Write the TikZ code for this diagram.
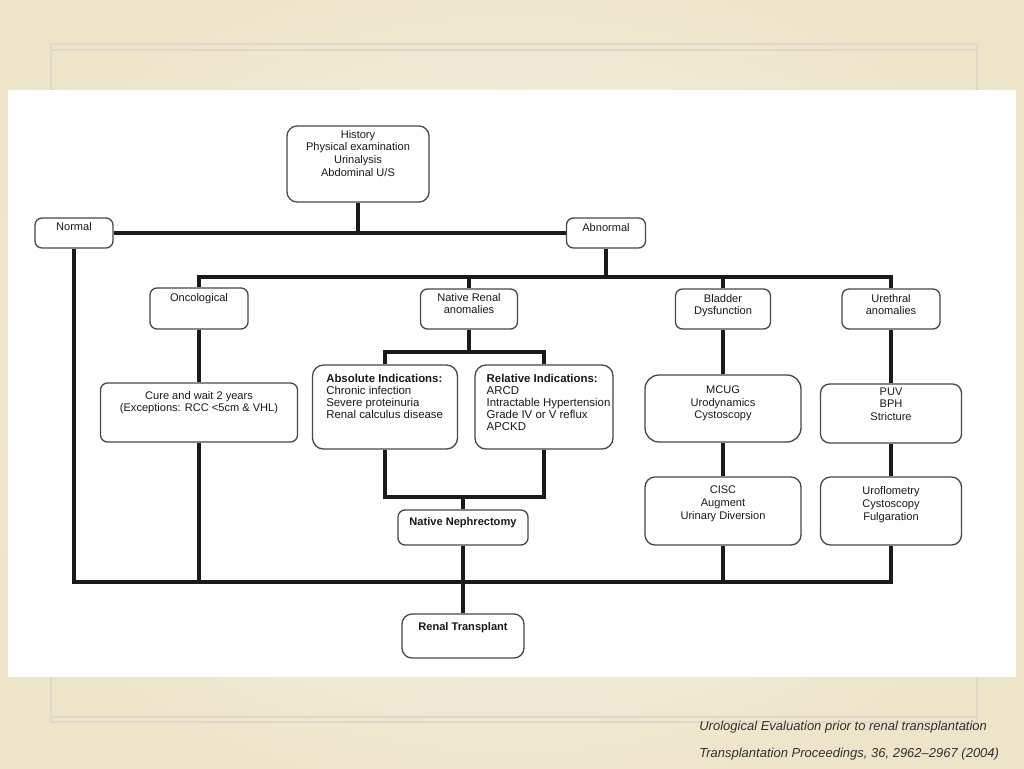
\documentclass[tikz,border=0pt]{standalone}
\usepackage{fontspec}
\setmainfont{Liberation Sans}
\usetikzlibrary{positioning}

\definecolor{slideedge}{HTML}{EEE4CA}
\definecolor{slidemid}{HTML}{F9F6EE}
\definecolor{frameline}{HTML}{DED9CB}
\definecolor{ink}{HTML}{1A1A1A}

\tikzset{
  box/.style={draw=ink!80, line width=0.75pt, rounded corners=0.14cm, inner sep=0pt},
  boxtext/.style={align=center, inner sep=0pt, text=ink, font=\fontsize{6.3}{7.2}\selectfont},
  listtext/.style={align=left, inner sep=0pt, text=ink, font=\fontsize{6.5}{6.8}\selectfont},
  conn/.style={line width=1.9pt, draw=ink, line join=miter},
  captext/.style={anchor=west, inner sep=0pt, text=ink!90, font=\itshape\fontsize{7.4}{9}\selectfont}
}

\begin{document}
\begin{tikzpicture}[x=0.02cm, y=-0.02cm]
  \useasboundingbox (0,0) rectangle (1024,768);

  % Slide background
  \shade[inner color=slidemid, outer color=slideedge] (-60,-40) rectangle (1084,808);
  \draw[frameline, line width=0.6pt] (51,44) rectangle (977,722);
  \draw[frameline, line width=0.6pt] (51,50) -- (977,50);
  \draw[frameline, line width=0.6pt] (51,717) -- (977,717);
  \fill[white] (8,90) rectangle (1016,677);

  % Define nodes
  \node[box, rounded corners=0.2cm, minimum width=2.84cm, minimum height=1.52cm] (history) at (358,164) {};
  \node[box, minimum width=1.56cm, minimum height=0.60cm] (normal) at (74,233) {};
  \node[box, minimum width=1.58cm, minimum height=0.60cm] (abnormal) at (606,233) {};

  \node[box, minimum width=1.96cm, minimum height=0.82cm] (onco) at (199,308.5) {};
  \node[box, minimum width=1.94cm, minimum height=0.80cm] (native) at (469,309) {};
  \node[box, minimum width=1.90cm, minimum height=0.80cm] (bladder) at (723,309) {};
  \node[box, minimum width=1.96cm, minimum height=0.80cm] (urethral) at (891,309) {};

  \node[box, minimum width=3.94cm, minimum height=1.18cm] (cure) at (199,412.5) {};
  \node[box, rounded corners=0.22cm, minimum width=2.90cm, minimum height=1.68cm] (absolute) at (385,407) {};
  \node[box, rounded corners=0.22cm, minimum width=2.76cm, minimum height=1.68cm] (relative) at (544,407) {};
  \node[box, rounded corners=0.28cm, minimum width=3.12cm, minimum height=1.34cm] (mcug) at (723,408.5) {};
  \node[box, rounded corners=0.18cm, minimum width=2.82cm, minimum height=1.18cm] (puv) at (891,413.5) {};
  \node[box, rounded corners=0.2cm, minimum width=3.12cm, minimum height=1.36cm] (cisc) at (723,511) {};
  \node[box, rounded corners=0.2cm, minimum width=2.82cm, minimum height=1.36cm] (uroflo) at (891,511) {};

  \node[box, minimum width=2.60cm, minimum height=0.70cm] (nephrectomy) at (463,527.5) {};
  \node[box, rounded corners=0.2cm, minimum width=2.44cm, minimum height=0.88cm] (transplant) at (463,636) {};

  % Box texts
  \node[boxtext, below=2.6pt of history.north] (history-t) {History\\Physical examination\\Urinalysis\\Abdominal U/S};
  \node[boxtext, below=2.6pt of normal.north] (normal-t) {Normal};
  \node[boxtext, below=3.2pt of abnormal.north] (abnormal-t) {Abnormal};
  \node[boxtext, below=3.2pt of onco.north] (onco-t) {Oncological};
  \node[boxtext, below=2.6pt of native.north] (native-t) {Native Renal\\anomalies};
  \node[boxtext, below=3.2pt of bladder.north] (bladder-t) {Bladder\\Dysfunction};
  \node[boxtext, below=3.2pt of urethral.north] (urethral-t) {Urethral\\anomalies};
  \node[boxtext, below=4.8pt of cure.north] (cure-t) {Cure and wait 2 years\\(Exceptions: RCC <5cm \& VHL)};
  \node[listtext, below right=5.5pt and 8pt of absolute.north west] (absolute-t)
    {\textbf{Absolute Indications:}\\Chronic infection\\Severe proteinuria\\Renal calculus disease};
  \node[listtext, below right=5.5pt and 6.8pt of relative.north west] (relative-t)
    {\textbf{Relative Indications:}\\ARCD\\Intractable Hypertension\\Grade IV or V reflux\\APCKD};
  \node[boxtext, below=6.4pt of mcug.north] (mcug-t) {MCUG\\Urodynamics\\Cystoscopy};
  \node[boxtext, below=2.2pt of puv.north] (puv-t) {PUV\\BPH\\Stricture};
  \node[boxtext, below=5.4pt of cisc.north] (cisc-t) {CISC\\Augment\\Urinary Diversion};
  \node[boxtext, below=5.8pt of uroflo.north] (uroflo-t) {Uroflometry\\Cystoscopy\\Fulgaration};
  \node[boxtext, below=4.3pt of nephrectomy.north] (nephrectomy-t) {\textbf{Native Nephrectomy}};
  \node[boxtext, below=4.8pt of transplant.north] (transplant-t) {\textbf{Renal Transplant}};

  % Junction points
  \coordinate (split) at (606,277);
  \coordinate (fork) at (469,352);
  \coordinate (join) at (463,497);
  \coordinate (bus) at (463,582);

  % Draw edges
  \draw[conn] (history) -- (history |- normal);
  \draw[conn] (normal) -- (abnormal);
  \draw[conn] (abnormal) -- (split);
  \draw[conn] (onco) |- (split) -| (urethral);
  \foreach \n in {native,bladder}
    \draw[conn] (\n) -- (\n |- split);

  \draw[conn] (onco) -- (cure);
  \draw[conn] (native) -- (fork);
  \draw[conn] (absolute) |- (fork) -| (relative);
  \draw[conn] (absolute) |- (join) -| (relative);
  \draw[conn] (join) -- (nephrectomy);

  \draw[conn] (bladder) -- (mcug);
  \draw[conn] (mcug) -- (cisc);
  \draw[conn] (urethral) -- (puv);
  \draw[conn] (puv) -- (uroflo);

  \draw[conn] (normal) |- (bus) -| (uroflo);
  \draw[conn] (cure) -- (cure |- bus);
  \draw[conn] (cisc) -- (cisc |- bus);
  \draw[conn] (nephrectomy) -- (transplant);

  % Caption
  \node[captext] (cap-title) at (699,727) {Urological Evaluation prior to renal transplantation};
  \node[captext] (cap-source) at (699,754) {Transplantation Proceedings, 36, 2962--2967 (2004)};
\end{tikzpicture}
\end{document}
